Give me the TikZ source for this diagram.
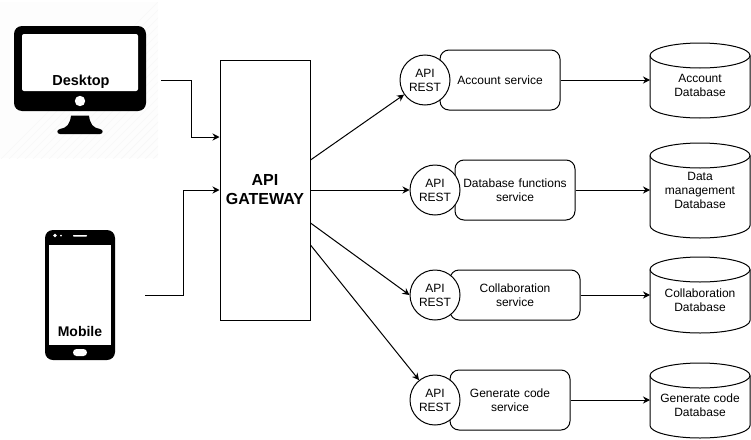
\documentclass[tikz,border=0pt]{standalone}
\usepackage{fontspec}
\setmainfont{Liberation Sans}
\usetikzlibrary{arrows.meta,calc}
\tikzset{
  wire/.style={line width=1pt,-{Stealth[length=7pt,width=7pt]}},
  service/.style={draw,line width=1pt,fill=white,rounded corners=9pt,inner sep=0pt,align=center,font=\fontsize{12}{14}\selectfont},
  restapi/.style={draw,circle,line width=1pt,fill=white,minimum size=50pt,inner sep=0pt,align=center,font=\fontsize{12}{14}\selectfont},
  gate/.style={draw,line width=1pt,fill=white,minimum width=90pt,minimum height=260pt,inner sep=0pt,align=center,font=\bfseries\fontsize{16}{19}\selectfont},
  iconbox/.style={inner sep=0pt,minimum width=#1},
  dbtext/.style={inner sep=0pt,align=center,font=\fontsize{12}{14}\selectfont}
}
\newcommand{\dbcyl}[2]{% top y, bottom y
  \draw[line width=1pt,fill=white] (650,#1+12.5) -- (650,#2-12.5) arc[x radius=50,y radius=12.5,start angle=180,end angle=0] -- (750,#1+12.5) arc[x radius=50,y radius=12.5,start angle=0,end angle=-180] -- cycle;
  \draw[line width=1pt] (650,#1+12.5) arc[x radius=50,y radius=12.5,start angle=180,end angle=0];
}
\newcommand{\apirest}{\raisebox{-1pt}{\parbox{40pt}{\centering API\\REST}}}
\begin{document}
\begin{tikzpicture}[x=1pt,y=-1pt]
\useasboundingbox (0,0) rectangle (751,439);
% hatched backdrop of the desktop icon
\begin{scope}
\clip (0,2) rectangle (158,158);
\fill[black!.7] (0,2) rectangle (158,158);
\foreach \k in {0,8,...,320} \draw[black!3,line width=.7pt] (\k-10,170) -- (\k+170-10,0);
\end{scope}
% desktop icon
\fill[black,rounded corners=8pt] (14,26) rectangle (146,111);
\fill[white,rounded corners=2pt] (22,34) rectangle (138,91);
\fill[white] (80,101) circle (5.2);
\fill[black] (71,115.5) -- (89,115.5) .. controls (90,124) and (93,128) .. (100,129)
  .. controls (103.5,129.5) and (103.5,134) .. (100,134) -- (60,134)
  .. controls (56.5,134) and (56.5,129.5) .. (60,129)
  .. controls (67,128) and (70,124) .. (71,115.5) -- cycle;
\node[inner sep=0pt,font=\bfseries\fontsize{14.5}{17}\selectfont] at (81,82) {Desktop};
\node[iconbox=158pt,minimum height=156pt] (desktop) at (80,80) {};
% mobile icon
\fill[black,rounded corners=8pt] (45,230) rectangle (115,360);
\fill[white] (49,245) rectangle (111,345);
\fill[white] (55,235.5) circle (1.9);
\fill[white] (61,235.5) circle (1);
\fill[white,rounded corners=.7pt] (73,235) rectangle (87,236.5);
\fill[white,rounded corners=3.5pt] (73,349) rectangle (87,356);
\node[inner sep=0pt,font=\bfseries\fontsize{14}{17}\selectfont] at (80,331) {Mobile};
\node[iconbox=70pt,minimum height=130pt] (mobile) at (110,295) {};
% gateway
\node[gate] (gw) at (265,190) {\raisebox{-1pt}{\parbox{88pt}{\centering API\\GATEWAY}}};
% services and their REST circles
\node[service,minimum width=120pt,minimum height=60pt,text width=120pt] (s1) at (500,80) {Account service};
\node[service,minimum width=120pt,minimum height=60pt,text width=120pt] (s2) at (515,190) {Database functions\\service};
\node[service,minimum width=130pt,minimum height=50pt,text width=130pt] (s3) at (515,295) {Collaboration\\service};
\node[service,minimum width=120pt,minimum height=60pt,text width=120pt] (s4) at (510,400) {Generate code\\service};
\node[restapi] (r1) at (425,80) {\apirest};
\node[restapi] (r2) at (435,190) {\apirest};
\node[restapi] (r3) at (435,295) {\apirest};
\node[restapi] (r4) at (435,400) {\apirest};
% databases
\dbcyl{43}{118}
\dbcyl{143}{238}
\dbcyl{257}{333}
\dbcyl{363}{438}
\node[dbtext] (d1) at (700,85) {Account\\Database};
\node[dbtext] (d2) at (700,190) {Data\\management\\Database};
\node[dbtext] (d3) at (700,300) {Collaboration\\Database};
\node[dbtext] (d4) at (700,405) {Generate code\\Database};
\coordinate (c1) at (650,80);
\coordinate (c2) at (650,190);
\coordinate (c3) at (650,295);
\coordinate (c4) at (650,400);
% connectors
\draw[wire] (desktop.east) ++(2,0) -- ++(30,0) |- ([yshift=53pt]gw.west);
\draw[wire] (mobile.east) -- ++(38,0) |- (gw.west);
\draw[wire] ([yshift=30pt]gw.east) -- (r1);
\draw[wire] (gw.east) -- (r2);
\draw[wire] ([yshift=-33pt]gw.east) -- (r3.west);
\draw[wire] ([yshift=-55pt]gw.east) -- (r4);
\draw[wire] (s1.east) -- (c1);
\draw[wire] (s2.east) -- (c2);
\draw[wire] (s3.east) -- (c3);
\draw[wire] (s4.east) -- (c4);
\end{tikzpicture}
\end{document}
